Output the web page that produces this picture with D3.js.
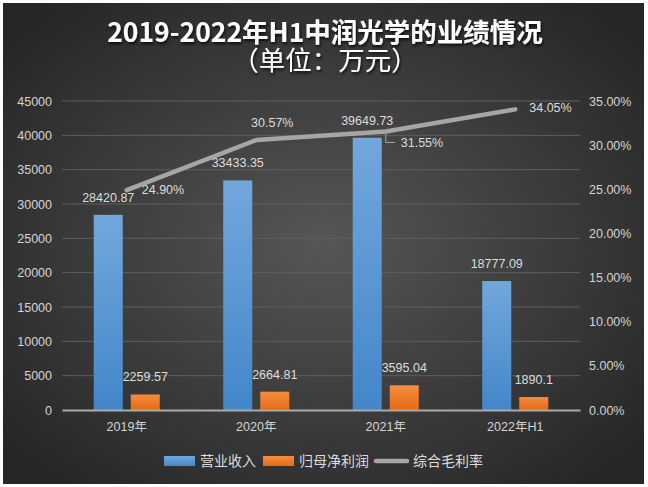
<!DOCTYPE html>
<html><head><meta charset="utf-8">
<script src="https://cdn.jsdelivr.net/npm/d3@7"></script>
<style>html,body{margin:0;padding:0;background:#fff;}svg{display:block;}</style>
</head><body>
<script>
const categories = ["2019年", "2020年", "2021年", "2022年H1"];
const revenue = [28420.87, 33433.35, 39649.73, 18777.09];
const profit = [2259.57, 2664.81, 3595.04, 1890.1];
const margin = [24.90, 30.57, 31.55, 34.05];
const leftTicks = [0, 5000, 10000, 15000, 20000, 25000, 30000, 35000, 40000, 45000];
const rightTicks = [0, 5, 10, 15, 20, 25, 30, 35];
const seriesNames = ["营业收入", "归母净利润", "综合毛利率"];
const titleLines = ["2019-2022年H1中润光学的业绩情况", "（单位：万元）"];

const W = 648, H = 487;
const FONT = "'Liberation Sans','Noto Sans CJK SC',sans-serif";
const svg = d3.select("body").append("svg").attr("width", W).attr("height", H);
const defs = svg.append("defs");

const bg = defs.append("radialGradient").attr("id", "bg").attr("cx", "50%").attr("cy", "50%").attr("r", "65%");
bg.append("stop").attr("offset", "0%").attr("stop-color", "#565656");
bg.append("stop").attr("offset", "100%").attr("stop-color", "#262626");

const gBlue = defs.append("linearGradient").attr("id", "gBlue").attr("x1", 0).attr("y1", 0).attr("x2", 0).attr("y2", 1);
gBlue.append("stop").attr("offset", "0%").attr("stop-color", "#72a7dc");
gBlue.append("stop").attr("offset", "100%").attr("stop-color", "#4387c9");
const gOr = defs.append("linearGradient").attr("id", "gOr").attr("x1", 0).attr("y1", 0).attr("x2", 0).attr("y2", 1);
gOr.append("stop").attr("offset", "0%").attr("stop-color", "#f48c42");
gOr.append("stop").attr("offset", "100%").attr("stop-color", "#e56b14");

const sh = defs.append("filter").attr("id", "tshadow").attr("x", "-10%").attr("y", "-30%").attr("width", "120%").attr("height", "160%");
sh.append("feDropShadow").attr("dx", 1).attr("dy", 2).attr("stdDeviation", 1.5).attr("flood-color", "#000").attr("flood-opacity", 0.8);

svg.append("rect").attr("x", 3).attr("y", 3).attr("width", 641).attr("height", 481).attr("fill", "url(#bg)");

// title (one text element, two lines)
const tt = svg.append("text").attr("filter", "url(#tshadow)")
  .attr("text-anchor", "middle").attr("fill", "#ffffff")
  .attr("font-family", "'Noto Sans CJK SC',sans-serif").attr("font-size", 26.5);
tt.selectAll("tspan").data(titleLines).join("tspan")
  .attr("x", 325).attr("y", (d, i) => i === 0 ? 42 : 70)
  .attr("font-weight", (d, i) => i === 0 ? 700 : 400).text(d => d);

const x = d3.scaleBand().domain(categories).range([62, 580]);
const bw = x.bandwidth();
const xSub = d3.scaleBand().domain(["rev", "profit"]).range([bw * 0.245, bw * 0.755]).paddingInner(0.216);
const yL = d3.scaleLinear().domain([0, 45000]).range([410, 101]);
const yR = d3.scaleLinear().domain([0, 35]).range([410, 101]);

// gridlines
svg.append("g").selectAll("line").data(leftTicks.filter(t => t > 0)).join("line")
  .attr("x1", 62).attr("x2", 580).attr("y1", d => yL(d)).attr("y2", d => yL(d))
  .attr("stroke", "#5e5e5e").attr("stroke-width", 1);

// left axis
const axL = svg.append("g").attr("transform", "translate(62,0)")
  .call(d3.axisLeft(yL).tickValues(leftTicks).tickSize(0).tickPadding(10).tickFormat(d3.format("d")));
axL.select(".domain").remove();
axL.selectAll("text").attr("fill", "#d4d4d4").attr("font-size", 12.5).attr("font-family", FONT);

// right axis
const axR = svg.append("g").attr("transform", "translate(580,0)")
  .call(d3.axisRight(yR).tickValues(rightTicks).tickSize(0).tickPadding(9).tickFormat(d => d3.format(".2f")(d) + "%"));
axR.select(".domain").remove();
axR.selectAll("text").attr("fill", "#d4d4d4").attr("font-size", 12.5).attr("font-family", FONT);

// bars
const gb = svg.append("g");
gb.selectAll("rect.rev").data(categories).join("rect").attr("class", "rev")
  .attr("x", d => x(d) + xSub("rev")).attr("width", xSub.bandwidth())
  .attr("y", (d, i) => yL(revenue[i])).attr("height", (d, i) => yL(0) - yL(revenue[i]))
  .attr("fill", "url(#gBlue)");
gb.selectAll("rect.pro").data(categories).join("rect").attr("class", "pro")
  .attr("x", d => x(d) + xSub("profit")).attr("width", xSub.bandwidth())
  .attr("y", (d, i) => yL(profit[i])).attr("height", (d, i) => yL(0) - yL(profit[i]))
  .attr("fill", "url(#gOr)");

// x axis
const axX = svg.append("g").attr("transform", "translate(0,410)")
  .call(d3.axisBottom(x).tickSize(0).tickPadding(12));
axX.select(".domain").attr("stroke", "#a9a9a9").attr("stroke-width", 2);
axX.selectAll("text").attr("fill", "#d4d4d4").attr("font-size", 12.5).attr("font-family", FONT);

// bar labels
const lab = svg.append("g").attr("font-family", FONT).attr("font-size", 12.5).attr("fill", "#dcdcdc").attr("text-anchor", "middle");
lab.selectAll("text.rv").data(categories).join("text").attr("class", "rv")
  .attr("x", d => x(d) + xSub("rev") + xSub.bandwidth() / 2)
  .attr("y", (d, i) => yL(revenue[i]) - 13).text((d, i) => revenue[i].toFixed(2));
lab.selectAll("text.pf").data(categories).join("text").attr("class", "pf")
  .attr("x", d => x(d) + xSub("profit") + xSub.bandwidth() / 2)
  .attr("y", (d, i) => yL(profit[i]) - 13).text((d, i) => String(profit[i]));

// line
const cx = d => x(d) + bw / 2;
const line = d3.line().x((d, i) => cx(categories[i])).y(d => yR(d));
svg.append("path").datum(margin).attr("d", line).attr("fill", "none")
  .attr("stroke", "#a6a6a6").attr("stroke-width", 4.5).attr("stroke-linecap", "round").attr("stroke-linejoin", "round");

// line labels
const mOff = [[15, 4, "start"], [16, -13, "middle"], [15, 16, "start"], [14, 3, "start"]];
lab.selectAll("text.mg").data(categories).join("text").attr("class", "mg")
  .attr("x", (d, i) => cx(d) + mOff[i][0]).attr("y", (d, i) => yR(margin[i]) + mOff[i][1])
  .attr("text-anchor", (d, i) => mOff[i][2]).text((d, i) => margin[i].toFixed(2) + "%");
// leader line for 2021
const p3x = cx(categories[2]), p3y = yR(margin[2]);
svg.append("path").attr("d", `M${p3x},${p3y + 2}L${p3x},${p3y + 11}L${p3x + 9},${p3y + 11}`)
  .attr("fill", "none").attr("stroke", "#a6a6a6").attr("stroke-width", 1);

// legend
const lg = svg.append("g").attr("font-family", "'Noto Sans CJK SC',sans-serif").attr("font-size", 14).attr("fill", "#dcdcdc");
const legX = [164, 263, 374];
lg.append("rect").attr("x", legX[0]).attr("y", 456).attr("width", 31).attr("height", 10).attr("fill", "url(#gBlue)");
lg.append("rect").attr("x", legX[1]).attr("y", 456).attr("width", 31).attr("height", 10).attr("fill", "url(#gOr)");
lg.append("line").attr("x1", legX[2] + 2).attr("x2", legX[2] + 33).attr("y1", 461).attr("y2", 461)
  .attr("stroke", "#a6a6a6").attr("stroke-width", 4.5).attr("stroke-linecap", "round");
lg.selectAll("text").data(seriesNames).join("text")
  .attr("x", (d, i) => legX[i] + (i === 2 ? 39 : 36)).attr("y", 466).text(d => d);
</script>
</body></html>
